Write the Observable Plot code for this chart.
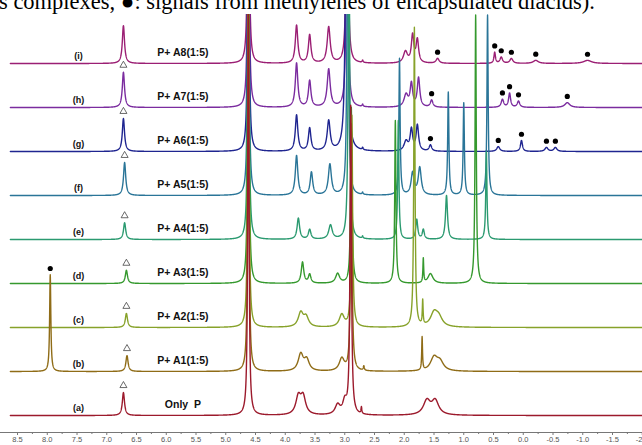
<!DOCTYPE html>
<html>
<head>
<meta charset="utf-8">
<script src="https://cdn.jsdelivr.net/npm/d3@7"></script>
<script src="https://cdn.jsdelivr.net/npm/@observablehq/plot@0.6"></script>
<style>
  html, body { margin: 0; padding: 0; background: #fff; }
  #wrap { position: relative; width: 642px; height: 445px; overflow: hidden; background: #fff; }
  #cap { position: absolute; top: -9px; left: -1px; font-family: "Liberation Serif", "Times New Roman", serif; font-size: 22.5px; line-height: 22.5px; white-space: nowrap; color: #000; z-index: 2; }
  #wrap svg { position: absolute; left: 0; top: 0; }
</style>
</head>
<body>
<div id="wrap">
  <div id="cap">s complexes, ●: signals from methylenes of encapsulated diacids).</div>
</div>
<script>
// ---- data ----
const ppmTicks = [8.5, 8.0, 7.5, 7.0, 6.5, 6.0, 5.5, 5.0, 4.5, 4.0, 3.5, 3.0, 2.5, 2.0, 1.5, 1.0, 0.5, 0.0, -0.5, -1.0, -1.5, -2.0];
const seriesTags = ["(a)", "(b)", "(c)", "(d)", "(e)", "(f)", "(g)", "(h)", "(i)"];
const seriesNames = ["Only\u00a0\u00a0P", "P+ A1(1:5)", "P+ A2(1:5)", "P+ A3(1:5)", "P+ A4(1:5)", "P+ A5(1:5)", "P+ A6(1:5)", "P+ A7(1:5)", "P+ A8(1:5)"];

// peaks: [ppm, intensity (one unit = spacing between spectra), half width (ppm), marker]
const peaksA = [[6.72,0.52,0.022,"t"],[4.62,9.5,0.012],[3.78,0.4,0.05],[3.70,0.4,0.05],[3.12,0.22,0.05],[3.00,0.28,0.04],[2.90,7.0,0.014],[2.72,0.15,0.008],[1.62,0.32,0.07],[1.48,0.32,0.07]];
const peaksB = [[7.95,2.2,0.012,"d"],[6.66,0.36,0.022,"t"],[4.62,9.5,0.012],[3.74,0.38,0.05],[3.64,0.25,0.05],[3.05,0.28,0.05],[2.89,5.6,0.014],[2.68,0.1,0.01],[1.70,0.75,0.008],[1.50,0.3,0.07],[1.40,0.2,0.07]];
const peaksC = [[6.67,0.32,0.022,"t"],[4.62,9.5,0.012],[3.74,0.32,0.05],[3.65,0.22,0.05],[3.05,0.28,0.05],[2.88,4.8,0.014],[1.83,6.8,0.012],[1.69,0.55,0.008],[1.50,0.3,0.07],[1.42,0.2,0.07]];
const peaksD = [[6.67,0.3,0.022,"t"],[4.62,9.5,0.012],[3.71,0.48,0.025],[3.59,0.2,0.025],[3.12,0.22,0.04],[2.89,4.0,0.014],[2.15,3.7,0.012],[1.68,0.55,0.008],[1.56,0.22,0.05],[0.80,6.1,0.012]];
const peaksE = [[6.70,0.38,0.022,"t"],[4.62,9.5,0.012],[3.78,0.48,0.025],[3.59,0.22,0.025],[3.24,0.32,0.035],[2.93,8.0,0.014],[2.70,0.05,0.01],[2.10,2.7,0.012],[1.79,0.45,0.02],[1.68,0.22,0.02],[1.29,1.0,0.02],[0.62,2.0,0.012]];
const peaksF = [[6.70,0.75,0.022,"t"],[4.62,9.5,0.012],[3.81,0.9,0.025],[3.56,0.52,0.025],[3.25,0.7,0.03],[2.95,8.0,0.014],[2.70,0.05,0.01],[2.08,3.1,0.012],[1.86,0.5,0.03],[1.74,0.62,0.03],[1.26,2.34,0.012],[1.00,2.1,0.012],[0.60,4.1,0.012]];
const peaksG = [[6.72,0.75,0.022,"t"],[4.62,9.5,0.012],[3.81,0.82,0.025],[3.59,0.52,0.025],[3.27,0.68,0.03],[2.97,8.0,0.02],[2.70,0.05,0.01],[1.97,0.22,0.04],[1.88,0.48,0.025],[1.78,0.58,0.025],[1.56,0.14,0.025,"d"],[0.42,0.11,0.03,"d"],[0.03,0.25,0.02,"d"],[-0.39,0.09,0.03,"d"],[-0.54,0.09,0.03,"d"]];
const peaksH = [[6.72,0.8,0.022,"t"],[4.62,9.5,0.012],[3.81,1.0,0.025],[3.59,0.6,0.025],[3.27,0.86,0.03],[2.96,8.0,0.014],[2.70,0.05,0.01],[1.97,0.28,0.04],[1.88,0.52,0.025],[1.76,0.66,0.025],[1.54,0.16,0.025,"d"],[0.35,0.18,0.025,"d"],[0.23,0.32,0.02,"d"],[0.08,0.14,0.025,"d"],[-0.74,0.11,0.05,"d"]];
const peaksI = [[6.72,0.86,0.022],[4.62,9.5,0.012],[3.81,0.86,0.025],[3.59,0.64,0.025],[3.27,0.82,0.03],[2.96,8.0,0.014],[2.70,0.05,0.01],[1.98,0.26,0.04],[1.86,0.62,0.025],[1.78,0.52,0.025],[1.44,0.11,0.03,"d"],[0.48,0.25,0.015,"d"],[0.37,0.14,0.025,"d"],[0.20,0.11,0.03,"d"],[-0.21,0.07,0.05,"d"],[-1.08,0.07,0.08,"d"]];
const seriesPeaks = [peaksA, peaksB, peaksC, peaksD, peaksE, peaksF, peaksG, peaksH, peaksI];

// ---- build ----
const colors = ["#9c1a2c", "#8f6c17", "#87a22a", "#35992e", "#2b9a70", "#2a7598", "#1f2590", "#7b2c9f", "#9b1f74"];
const spec = (peaks, p) => peaks.reduce((s, [x0, h, w]) => s + h * w * w / ((p - x0) * (p - x0) + w * w), 0);

const lines = seriesPeaks.map((peaks, i) => {
  const pts = [];
  for (let k = 0; ; k++) {
    const p = 8.62 - k * 0.002;
    if (p < -2.01) break;
    pts.push({ppm: p, v: i + spec(peaks, p)});
  }
  return pts;
});

const markers = [];
seriesPeaks.forEach((peaks, i) => peaks.forEach(pk => {
  if (pk[3]) markers.push({ppm: pk[0], v: i + spec(peaks, pk[0]), kind: pk[3]});
}));

const labels = seriesTags.map((t, i) => ({tag: t, name: seriesNames[i], i}));
const minorTicks = ppmTicks.slice(0, -1).map(t => t - 0.25);

const marks = [];
for (let i = seriesPeaks.length - 1; i >= 0; i--) {
  marks.push(Plot.line(lines[i], {x: "ppm", y: "v", stroke: colors[i], strokeWidth: 1.4, clip: true}));
}
marks.push(
  Plot.dot(markers.filter(d => d.kind === "d"), {x: "ppm", y: d => d.v + 0.14, r: 2.6, fill: "#000", stroke: "none"}),
  Plot.dot(markers.filter(d => d.kind === "t"), {x: "ppm", y: d => d.v + 0.16, symbol: "triangle", r: 2.6, fill: "#fff", stroke: "#444", strokeWidth: 0.8}),
  Plot.text(labels, {x: 7.475, y: d => d.i + 0.17, text: "tag", fontSize: 9, fontWeight: "bold", fill: "#111"}),
  Plot.text(labels, {x: 5.72, y: d => d.i + 0.24, text: "name", fontSize: 10.5, fontWeight: "bold", fill: "#111"}),
  Plot.frame({anchor: "bottom", stroke: "#777"}),
  Plot.axisX(ppmTicks, {anchor: "bottom", tickSize: 3, tickPadding: 1, fontSize: 7.5, tickFormat: d => d.toFixed(1), label: null, stroke: "#777", fill: "#555"}),
  Plot.axisX(minorTicks, {anchor: "bottom", tickSize: 2, text: null, label: null, stroke: "#777"})
);

const chart = Plot.plot({
  width: 642,
  height: 445,
  marginTop: 14,
  marginBottom: 13,
  marginLeft: 0,
  marginRight: 0,
  x: {domain: [8.786, -2.004]},
  y: {domain: [0, 8], range: [415, 63], axis: null},
  style: {background: "#fff", fontFamily: "'Liberation Sans', Arial, sans-serif", overflow: "hidden"},
  marks
});
document.getElementById("wrap").insertBefore(chart, document.getElementById("cap"));
</script>
</body>
</html>
